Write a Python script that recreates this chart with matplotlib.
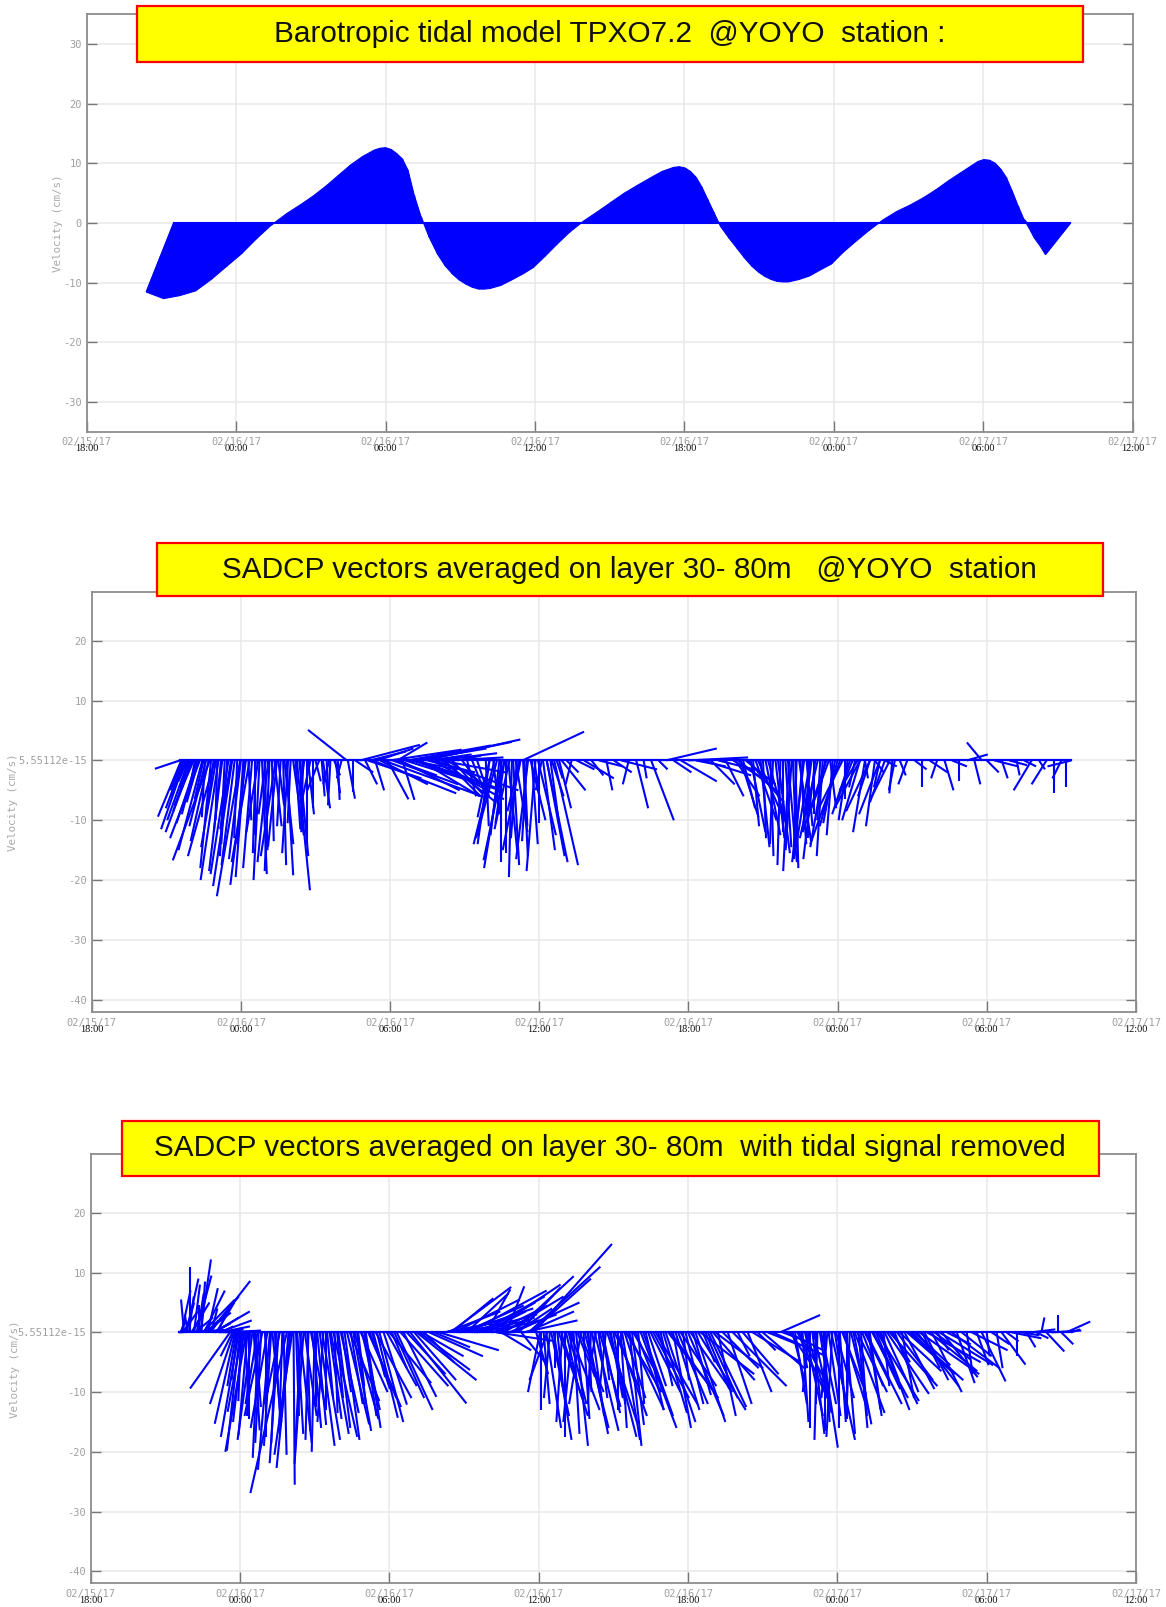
import numpy as np
import matplotlib
matplotlib.use("Agg")
import matplotlib.pyplot as plt
from matplotlib.collections import LineCollection
from matplotlib.patches import Rectangle, Polygon

# =========================
# Data (hours after 02/15/17 18:00, u / v in cm/s)
# =========================
tick_hours = [0, 6, 12, 18, 24, 30, 36, 42]
tick_dates = ["02/15/17", "02/16/17", "02/16/17", "02/16/17",
              "02/16/17", "02/17/17", "02/17/17", "02/17/17"]
tick_times = ["18:00", "00:00", "06:00", "12:00", "18:00", "00:00", "06:00", "12:00"]

titles = ["Barotropic tidal model TPXO7.2  @YOYO  station :",
          "SADCP vectors averaged on layer 30- 80m   @YOYO  station",
          "SADCP vectors averaged on layer 30- 80m  with tidal signal removed"]

# barotropic tide (TPXO7.2)
tide_hours = [3.5, 4.0, 4.5, 5.0, 5.5, 6.0, 6.5, 7.0, 7.5, 8.0,
              8.5, 9.0, 9.5, 10.0, 10.5, 11.0, 11.5, 11.75, 12.0, 12.25,
              12.5, 12.75, 13.0, 13.25, 13.5, 13.75, 14.0, 14.25, 14.5, 14.75,
              15.0, 15.25, 15.5, 15.75, 16.0, 16.5, 17.0, 17.5, 18.0, 18.5,
              19.0, 19.5, 20.0, 20.5, 21.0, 21.5, 22.0, 22.5, 23.0, 23.5,
              23.75, 24.0, 24.25, 24.5, 24.75, 25.0, 25.25, 25.5, 25.75, 26.0,
              26.25, 26.5, 26.75, 27.0, 27.25, 27.5, 27.75, 28.0, 28.5, 29.0,
              29.5, 30.0, 30.5, 31.0, 31.5, 32.0, 32.5, 33.0, 33.5, 34.0,
              34.5, 35.0, 35.5, 35.75, 36.0, 36.25, 36.5, 36.75, 37.0, 37.25,
              37.5, 37.75, 38.0, 38.5, 39.0, 39.5]
tide_u = [-4.6, -3.8, -3.2, -2.6, -2.1, -1.6, -1.2, -0.8, -0.4, 0.2,
          0.3, 0.4, 0.5, 0.5, 0.4, 0.3, 0.2, 0.1, 0.0, -0.1,
          -0.2, -0.3, -0.4, -0.4, -0.3, 0.0, 0.4, 0.6, 0.8, 0.9,
          1.0, 1.0, 1.0, 0.9, 0.8, 0.5, 0.2, 0.0, -0.3, -0.5,
          -0.6, -0.5, -0.2, 0.1, 0.3, 0.4, 0.5, 0.5, 0.4, 0.3,
          0.2, 0.1, 0.0, -0.1, -0.2, -0.3, -0.3, -0.2, 0.2, 0.5,
          0.7, 0.9, 1.0, 1.0, 1.0, 0.9, 0.8, 0.7, 0.4, 0.1,
          -0.2, -0.4, -0.6, -0.6, -0.4, -0.1, 0.1, 0.3, 0.4, 0.5,
          0.5, 0.4, 0.3, 0.2, 0.1, 0.0, -0.1, -0.2, -0.3, -0.4,
          -0.4, -0.5, -0.6, -1.9, -2.9, -4.2]
tide_v = [-11.6, -12.7, -12.2, -11.4, -9.5, -7.3, -5.2, -2.7, -0.4, 1.6,
          3.0, 4.5, 6.2, 8.0, 9.7, 11.1, 12.2, 12.5, 12.6, 12.3,
          11.6, 10.7, 8.8, 4.6, 1.0, -2.4, -5.3, -7.2, -8.6, -9.6,
          -10.3, -10.8, -11.1, -11.1, -11.0, -10.5, -9.6, -8.6, -7.5, -5.7,
          -3.7, -1.6, 0.3, 1.9, 3.5, 5.0, 6.3, 7.5, 8.6, 9.3,
          9.4, 9.2, 8.6, 7.6, 6.0, 4.0, 1.8, -0.6, -2.6, -4.3,
          -5.9, -7.3, -8.3, -9.0, -9.5, -9.8, -9.9, -9.9, -9.5, -8.9,
          -7.9, -6.9, -5.0, -3.2, -1.3, 0.5, 1.9, 3.0, 4.2, 5.6,
          7.1, 8.4, 9.7, 10.3, 10.6, 10.5, 10.0, 9.0, 7.6, 5.4,
          2.8, 0.6, -1.0, -2.5, -4.0, -5.3]

# SADCP 30-80 m layer
layer_hours = [3.55, 3.6, 3.7, 3.8, 3.9, 4.0, 4.1, 4.2, 4.35, 4.5, 4.6, 4.75, 4.9, 5.0,
               5.1, 5.2, 5.35, 5.5, 5.6, 5.75, 5.97, 6.1, 6.2, 6.3, 6.45, 6.6, 6.7, 6.85,
               7.0, 7.1, 7.25, 7.4, 7.5, 7.6, 7.75, 7.84, 8.0, 8.1, 8.25, 8.4, 8.55, 8.65,
               8.8, 9.0, 9.15, 9.3, 9.45, 9.6, 9.75, 9.9, 10.05, 10.26, 10.3, 10.5, 10.6,
               10.8, 11.0, 11.2, 11.4, 11.6, 11.73, 11.9, 12.0, 12.2, 12.4, 12.5, 12.7,
               12.9, 13.1, 13.3, 13.5, 13.7, 13.9, 14.1, 14.3, 14.5, 14.7, 14.9, 15.1,
               15.3, 15.5, 16.6, 15.85, 16.0, 16.15, 16.3, 16.45, 16.6, 16.75, 16.9, 17.05,
               17.2, 17.33, 17.35, 17.5, 17.65, 17.8, 17.95, 18.1, 18.3, 18.5, 18.7, 18.9,
               19.1, 19.3, 19.5, 19.8, 20.1, 20.4, 20.7, 21.0, 21.3, 21.6, 21.9, 22.2,
               22.5, 22.8, 23.1, 23.4, 23.7, 24.0, 24.3, 24.6, 24.9, 25.2, 25.5, 25.8,
               26.0, 26.2, 26.4, 26.6, 26.8, 27.0, 27.2, 27.4, 27.6, 27.8, 28.0, 28.15,
               28.3, 28.45, 28.6, 28.75, 28.9, 29.05, 29.2, 29.4, 29.55, 29.7, 29.9, 30.1,
               30.3, 30.5, 30.7, 30.9, 31.1, 31.3, 31.5, 31.7, 31.9, 32.2, 32.5, 32.8,
               33.1, 33.4, 33.7, 34.0, 34.3, 34.6, 34.9, 35.2, 35.5, 35.8, 36.0, 36.3,
               36.6, 36.9, 37.2, 37.5, 37.8, 38.1, 38.4, 38.7, 39.0, 39.2, 39.4,
               # denser ensembles
               3.65, 3.75, 3.85, 3.95, 4.05, 4.15, 4.25, 4.3, 4.45, 4.55,
               4.7, 4.8, 4.95, 5.05, 5.25, 5.45, 5.65, 5.85, 6.0, 6.15,
               6.35, 6.55, 6.75, 6.95, 7.15, 7.35, 7.45, 7.7, 7.9, 8.2,
               8.35, 8.5, 8.7, 8.9, 9.25, 9.55, 9.8,
               11.1, 11.3, 11.5, 12.1, 12.3, 12.6, 12.8, 13.0, 13.2, 13.4,
               13.6, 13.8, 14.0, 14.2, 14.4,
               16.0, 16.2, 16.4, 16.5, 16.65, 16.8, 16.95, 17.1, 17.25, 17.4,
               17.55, 17.7, 17.85, 18.0, 18.15, 18.3, 18.45, 18.6, 18.8,
               25.9, 26.1, 26.3, 26.5, 26.7, 26.9, 27.1, 27.3, 27.5, 27.7,
               27.9, 28.05, 28.2, 28.35, 28.5, 28.65, 28.8, 28.95, 29.1, 29.3,
               29.5, 29.65, 29.8, 30.0, 30.2, 30.4, 30.6, 30.8,
               30.9, 31.1, 31.3, 31.5, 31.7, 31.9, 32.1, 32.3]
layer_u = [-4.2, -3.9, -3.0, -2.5, -3.6, -2.0, -3.2, -2.4, -5.0, -1.5, -2.8, -6.2, -1.0, -2.5,
           -3.0, -1.2, -0.8, -3.0, -1.8, -2.2, -3.9, -1.0, -2.6, 0.5, -1.5, -0.5, -2.0, 0.8,
           -1.2, -1.8, 0.3, -2.5, 1.0, -0.6, 1.5, 1.1, -0.5, 1.8, 2.2, 0.4, -0.8, 0.0,
           -1.5, 0.9, -2.0, 1.2, 0.2, -0.4, 1.0, 0.3, -0.8, -6.5, 1.2, 0.0, 3.0,
           10.0, 2.0, 6.0, 1.5, 8.0, 16.8, 3.5, 12.0, 7.0, 10.0, 2.0, 14.0,
           9.0, 13.0, 15.0, 8.0, 12.0, 10.0, 9.0, 7.0, 5.0, 4.0, 3.0, 1.5,
           2.0, 2.0, -3.5, 0.5, -2.0, 1.0, -3.5, 0.0, -1.5, 1.5, -0.5, 2.0,
           -2.0, 10.3, 0.8, -0.8, 2.5, 1.0, 3.0, -1.0, 3.5, 2.0, 1.0, 4.0,
           2.0, -1.0, 3.0, 5.0, 2.0, 4.0, 1.0, 3.0, 6.0, -1.0, 2.0, 0.5,
           3.8, 1.5, 8.5, 3.0, 6.0, 10.0, 5.0, 8.0, 4.0, 6.0, 3.0, 5.0,
           7.0, 2.0, 6.0, 1.0, 4.0, 0.5, 3.0, -0.5, 2.0, 0.0, 1.5, -1.0,
           0.5, 2.0, -1.5, 1.0, -2.5, 0.0, -3.0, -1.0, -4.0, 1.0, -2.0, -5.0,
           0.0, -3.0, -1.0, -4.0, 0.5, -2.0, 1.5, -1.0, 2.0, -0.5, 1.0, -1.5,
           2.0, 0.0, 3.0, -1.0, 1.5, 2.5, 0.0, 3.5, 1.0, -2.5, 2.0, 4.0,
           1.0, 3.0, 0.5, 2.0, -3.0, 1.0, -2.5, 0.0, -1.5, 0.0, -4.0,
           # denser ensembles
           -2.0, -4.0, -1.5, -2.8, -4.5, -1.0, -3.5, -2.0, -4.0, -0.5,
           -3.0, -1.8, -4.5, -0.3, -2.2, -1.0, -3.2, -0.5, -2.0, -1.5,
           -3.0, 0.0, -1.0, 0.5, -0.8, 1.2, -1.5, 0.5, -1.0, 0.8,
           1.5, -0.3, 1.0, 0.0, 0.5, -1.0, 0.8,
           9.0, 14.0, 6.0, 11.0, 5.0, 16.0, 8.0, 12.0, 10.0, 16.0,
           7.0, 14.0, 11.0, 6.0, 9.0,
           -2.0, -3.5, -1.5, -3.0, 0.0, -2.5, 1.0, -1.0, -3.0, 0.5,
           -2.0, 1.0, -1.5, 0.0, 2.0, 3.0, 1.5, 4.0, 2.0,
           4.0, 3.0, 5.0, 2.5, 3.5, 1.5, 2.5, 0.5, 1.5, -0.5,
           1.0, -1.0, 0.5, -0.5, 1.0, -2.0, 0.0, -1.5, -2.0, -0.5,
           -2.5, -3.5, -1.0, -3.0, -4.0, -1.5, -2.5, -3.0,
           -3.0, -2.0, -4.0, -1.5, -3.5, -2.5, -3.0, -1.0]
layer_v = [-1.4, -9.4, -8.0, -6.0, -10.0, -4.5, -7.5, -9.0, -13.0, -6.5, -11.0, -16.7, -8.0, -14.5,
           -20.0, -12.0, -16.0, -19.0, -11.5, -17.5, -22.7, -14.0, -20.8, -10.0, -18.0, -15.5, -12.0, -19.0,
           -9.0, -17.0, -13.5, -16.0, -7.5, -11.0, -14.0, -19.2, -10.5, -12.5, -21.7, -9.5, -6.0, -13.9,
           -7.0, -3.5, -5.0, -8.0, -4.5, -7.5, -2.5, -6.6, -3.0, 5.1, -6.4, -5.2, -2.0,
           2.6, -4.0, 1.5, -5.0, -4.0, -6.1, -6.5, 1.8, -2.5, -5.0, -6.6, 2.5,
           -3.0, -4.5, 3.1, -2.0, -6.5, 1.2, -7.0, -4.5, -5.5, 0.8, -4.0, -6.0,
           -5.0, -6.0, -16.7, -11.0, -14.0, -9.0, -13.0, -17.0, -10.5, -15.0, -19.5, -12.0,
           -8.5, 4.8, -16.0, -13.5, -10.0, -7.0, -12.5, -5.0, -17.0, -6.0, -3.0, -5.0,
           -2.0, -4.0, -1.5, -3.0, -2.5, -1.0, -5.0, -2.0, -1.5, -4.0, -8.0, -3.0,
           -10.0, -1.5, 2.0, -2.0, -3.5, 0.5, -1.0, -2.5, -4.0, -1.5, -6.0, -3.0,
           -5.5, -8.0, -7.0, -11.0, -9.0, -13.0, -10.5, -14.0, -15.5, -12.0, -17.0, -15.0,
           -18.0, -13.5, -16.5, -11.0, -15.0, -9.0, -13.0, -16.0, -12.0, -8.0, -10.5, -14.0,
           -6.5, -9.0, -4.5, -7.5, -3.0, -6.0, -2.0, -4.5, -1.0, -5.5, -2.5, -4.0,
           -1.5, -4.5, -2.0, -3.0, -5.0, -1.0, -3.5, 1.0, -4.0, 3.0, -2.0, -1.0,
           -3.0, -0.8, -2.5, -1.0, -5.0, -1.5, -4.0, -5.5, -3.0, -4.5, -1.0,
           # denser ensembles
           -5.0, -11.5, -3.5, -8.5, -12.0, -5.5, -10.5, -7.0, -15.0, -9.5,
           -13.5, -18.0, -16.0, -10.0, -18.5, -14.0, -21.0, -13.0, -16.5, -19.5,
           -17.0, -12.5, -20.0, -15.0, -18.5, -11.0, -14.5, -17.5, -15.5, -11.5,
           -16.0, -12.0, -9.0, -8.0, -6.0, -4.0, -5.5,
           -3.0, -5.5, 2.0, -4.0, 3.0, -5.0, -1.5, 2.0, -6.0, 3.5,
           1.0, -5.0, -2.0, -6.0, 0.5,
           -9.5, -14.0, -12.5, -18.0, -15.5, -11.5, -17.5, -13.0, -15.0, -11.0,
           -16.5, -14.0, -18.5, -10.5, -15.0, -16.0, -11.0, -17.5, -8.0,
           -6.0, -9.5, -4.0, -12.0, -10.0, -14.5, -12.5, -16.0, -13.0, -17.5,
           -14.5, -18.5, -12.5, -16.0, -14.0, -17.0, -13.0, -11.5, -16.5, -10.0,
           -14.5, -9.5, -12.5, -11.0, -8.0, -10.0, -6.5, -5.0,
           -10.0, -12.0, -8.5, -11.0, -9.0, -7.0, -6.0, -5.0]

# SADCP 30-80 m layer, tide removed
resid_hours = [3.55, 3.6, 3.7, 3.8, 3.9, 4.0, 4.1, 4.2, 4.3, 4.4, 4.45, 4.5, 4.6, 4.7,
               4.8, 4.9, 5.0, 5.1, 5.2, 5.3, 5.4, 5.6, 5.7, 5.8, 5.9, 6.0, 6.1, 6.2,
               6.3, 6.4, 6.55, 6.7, 6.85, 7.0, 7.1, 7.25, 7.4, 7.55, 7.7, 7.88, 8.02, 8.15,
               8.3, 8.45, 8.6, 8.75, 8.9, 9.05, 9.2, 9.35, 9.5, 9.65, 9.8, 9.95, 10.1,
               10.3, 10.45, 10.6, 10.75, 10.9, 11.05, 11.2, 11.35, 11.5, 11.77, 11.9, 12.1,
               12.3, 12.57, 12.84, 13.0, 13.2, 13.4, 13.6, 13.8, 14.0, 14.2, 14.45, 14.5,
               14.7, 14.9, 15.1, 15.3, 15.5, 15.7, 15.9, 16.1, 16.3, 16.5, 16.7, 16.96,
               17.1, 17.3, 17.5, 17.8, 17.9, 18.05, 18.2, 18.35, 18.5, 18.65, 18.8, 18.95,
               19.1, 19.25, 19.4, 19.55, 19.7, 19.85, 20.0, 20.15, 20.3, 20.45, 20.6, 20.75,
               20.9, 21.05, 21.2, 21.35, 21.5, 21.65, 21.8, 22.0, 22.2, 22.4, 22.6, 22.8,
               23.0, 23.2, 23.4, 23.6, 23.8, 24.0, 24.2, 24.4, 24.6, 24.8, 25.0, 25.2,
               25.4, 25.6, 25.8, 26.0, 26.2, 26.4, 26.6, 26.8, 27.0, 27.2, 27.4, 27.7,
               27.8, 28.0, 28.2, 28.4, 28.55, 28.7, 28.85, 29.0, 29.15, 29.3, 29.45, 29.6,
               29.75, 29.9, 30.05, 30.2, 30.35, 30.5, 30.65, 30.8, 30.95, 31.1, 31.25, 31.4,
               31.55, 31.7, 31.85, 32.0, 32.2, 32.4, 32.6, 32.8, 33.0, 33.2, 33.4, 33.6,
               33.8, 34.0, 34.2, 34.4, 34.6, 34.8, 35.0, 35.2, 35.4, 35.6, 35.8, 36.0,
               36.2, 36.4, 36.6, 36.8, 37.0, 37.2, 37.4, 37.6, 37.8, 38.0, 38.2, 38.4,
               38.6, 38.86, 39.0, 39.2, 39.4,
               # denser ensembles
               3.65, 3.75, 3.85, 3.95, 4.05, 4.15, 4.25, 4.35, 4.55, 4.65,
               4.75, 4.85, 4.95, 5.05, 5.15, 5.25,
               5.75, 5.85, 5.95, 6.05, 6.15, 6.25, 6.35, 6.5, 6.6, 6.75,
               6.9, 7.05, 7.2, 7.3, 7.45, 7.6, 7.75, 7.95, 8.1, 8.25,
               8.4, 8.55, 8.7, 8.85, 9.0, 9.1, 9.3, 9.45, 9.6, 9.75,
               9.9, 10.05, 10.2, 10.4, 10.55, 10.7, 10.85, 11.0, 11.15, 11.3,
               11.45, 11.6, 12.0, 12.2, 12.45, 12.7, 13.1, 13.3,
               14.3, 14.6, 14.8, 15.0, 15.2, 15.4, 15.6, 15.8, 16.0, 16.2,
               16.4, 16.6, 16.8, 17.0, 17.2, 17.4, 17.6, 17.7,
               18.1, 18.3, 18.45, 18.6, 18.75, 18.9, 19.05, 19.2, 19.35, 19.5,
               19.65, 19.8, 19.95, 20.1, 20.25, 20.4, 20.55, 20.7, 20.85, 21.0,
               21.15, 21.3, 21.45, 21.6, 21.75, 21.9, 22.1, 22.3, 22.5, 22.7,
               22.9, 23.1, 23.3, 23.5, 23.7, 23.9, 24.1, 24.3, 24.5, 24.7,
               24.9, 25.1,
               28.1, 28.3, 28.45, 28.6, 28.75, 28.9, 29.05, 29.2, 29.35, 29.5,
               29.65, 29.8, 29.95, 30.1, 30.25, 30.4, 30.55, 30.7, 30.85, 31.0,
               31.15, 31.3, 31.45, 31.6, 31.75, 31.9, 32.1, 32.3, 32.5, 32.7,
               32.9, 33.1, 33.3, 33.5, 33.7, 33.9, 34.1]
resid_u = [7.8, 1.0, 2.5, 1.5, -0.5, 0.0, 2.0, 3.0, 1.0, 1.8, 0.6, 5.4, 4.3, 1.7,
           6.7, 3.0, 4.0, 2.0, 5.0, 3.5, 6.0, -6.7, -2.0, -3.4, -1.0, -2.2, -2.5, 0.5,
           -1.5, -0.5, 1.0, -2.0, -1.0, 0.5, -2.8, -1.2, 0.8, -1.5, -0.5, -6.1, -2.3, 0.2,
           1.0, -1.0, 2.0, -0.5, 1.5, 0.0, 2.5, -1.0, 1.0, 3.0, 0.5, 2.0, 1.5,
           3.7, 2.0, 4.0, 1.0, 3.0, 2.5, 4.5, 2.0, 3.5, 3.9, 5.0, 2.5,
           6.0, 5.5, 9.4, 7.0, 8.5, 5.0, 9.0, 6.0, 10.0, 8.0, 10.2, 7.0,
           9.0, 12.0, 7.0, 11.0, 6.0, 9.0, 4.0, 8.0, 10.0, 5.0, 3.0, 10.2,
           6.0, 4.0, 8.0, 13.1, 2.0, -2.0, 1.0, -3.0, 3.0, 0.0, 4.0, -1.0,
           2.0, 5.0, 1.0, 3.0, -2.0, 4.0, 0.5, 2.0, -1.0, 3.5, 1.0, 5.0,
           2.0, 4.0, 0.0, 3.0, 6.0, 2.0, 4.0, 1.0, 5.0, 3.0, 6.0, 2.0,
           4.0, 7.0, 3.0, 5.0, 1.0, 6.0, 3.0, 8.0, 2.0, 5.0, 7.0, 3.0,
           6.0, 4.0, 9.0, 2.0, 6.0, 4.0, 8.0, 3.0, 7.0, 5.0, 9.0, 6.7,
           4.0, 6.0, 2.0, 5.0, 1.0, 3.0, -1.0, 2.0, 0.0, 3.0, 1.0, -1.0,
           4.0, 2.0, 0.0, 3.5, 1.5, -0.5, 3.0, 5.0, 1.0, 4.0, 2.0, 6.0,
           3.0, 5.0, 1.0, 7.0, 3.0, 6.0, 2.0, 8.0, 4.0, 7.0, 3.0, 9.0,
           5.0, 2.0, 6.0, 4.0, 8.0, 3.0, 5.0, 1.0, 6.0, 2.0, 4.0, 0.5,
           3.0, 1.0, 4.0, 2.0, 5.0, 0.0, 3.0, 1.5, 4.0, 2.0, 0.5, 3.0,
           5.0, 0.0, 2.0, 4.0, 1.5,
           # denser ensembles
           1.5, -0.5, 2.0, 0.8, 3.0, 1.0, 2.5, 0.0, 3.5, 2.0,
           5.0, 1.0, 6.0, 3.0, 5.5, 2.0,
           -4.0, -1.5, -3.0, -0.5, -1.8, -3.5, 0.0, -2.5, 1.0, -1.0,
           -3.0, 0.0, -2.0, 1.5, -0.8, -2.5, 0.5, -1.5, -3.0, 0.5,
           2.0, -1.5, 0.5, 2.5, -0.5, 1.5, 3.0, 0.0, 2.0, 4.0,
           1.0, 3.0, 2.5, 5.0, 3.0, 1.5, 4.5, 2.0, 5.5, 3.0,
           6.0, 4.0, 7.0, 5.0, 8.0, 6.5, 10.0, 7.0,
           9.0, 11.0, 8.0, 10.0, 13.0, 9.0, 11.0, 7.0, 12.0, 9.0,
           6.0, 10.0, 8.0, 11.0, 7.0, 9.0, 12.0, 10.0,
           0.0, 2.5, -1.0, 3.0, 1.0, 4.5, 0.0, 3.0, -1.5, 2.0,
           4.0, 1.0, 3.5, -0.5, 4.0, 1.5, 3.0, -1.0, 4.5, 2.0,
           5.0, 1.0, 3.5, 6.0, 2.0, 4.0, 6.0, 3.0, 5.0, 7.0,
           2.0, 5.0, 8.0, 4.0, 6.0, 3.0, 7.0, 5.0, 9.0, 4.0,
           6.0, 8.0,
           4.0, 2.0, 5.0, 1.0, 3.5, 0.0, 3.0, -0.5, 2.5, 0.0,
           2.0, -1.0, 3.0, 1.0, 4.0, 0.0, 2.5, 5.0, 1.5, 3.5,
           6.0, 2.0, 4.5, 7.0, 3.0, 5.5, 8.0, 4.0, 7.0, 5.0,
           9.0, 6.0, 10.0, 4.0, 8.0, 6.0, 9.0]
resid_v = [0.4, 2.0, 3.5, 5.0, 3.0, 11.0, 4.0, 2.5, 6.5, 12.2, 8.5, 5.5, 3.3, 7.4,
           8.6, 1.5, 2.5, 4.5, 1.0, 0.5, 0.3, -9.4, -4.0, -15.3, -8.0, -19.8, -13.3, -11.0,
           -17.2, -14.0, -16.4, -12.0, -18.5, -10.0, -16.0, -19.0, -13.0, -21.9, -15.5, -26.9, -22.7, -25.5,
           -17.0, -20.0, -14.0, -18.0, -16.0, -12.5, -19.0, -15.0, -11.0, -17.0, -13.5, -16.0, -10.0,
           -15.4, -12.0, -14.5, -9.0, -13.0, -16.0, -11.0, -7.5, -14.3, -12.1, -9.0, -6.0,
           -13.0, -10.8, -11.9, -8.0, -6.3, -5.0, -4.0, -2.5, -3.0, 1.5, 7.6, 5.7,
           2.5, 4.0, 6.5, 3.0, 1.0, 5.0, 7.2, 2.0, -1.5, -3.0, 7.7, 9.4,
           4.0, -5.0, 3.5, 14.8, -7.0, -10.0, -12.0, -8.0, -14.0, -6.0, -11.0, -15.0,
           -9.0, -13.0, -17.0, -7.5, -12.0, -16.0, -10.0, -14.0, -6.0, -12.5, -8.0, -15.0,
           -11.0, -9.0, -13.0, -18.0, -10.0, -19.0, -7.0, -12.0, -14.0, -9.0, -11.0, -6.0,
           -13.5, -9.0, -16.0, -12.0, -8.0, -14.0, -10.5, -13.0, -5.0, -11.0, -8.0, -14.0,
           -6.0, -12.0, -9.0, -4.0, -7.0, -10.0, -5.0, -3.0, -6.0, -2.0, -4.0, 2.9,
           -1.5, -3.0, -8.0, -11.0, -6.0, -14.0, -10.0, -17.0, -12.0, -19.3, -15.0, -11.0,
           -18.0, -13.0, -16.0, -9.0, -17.0, -12.0, -15.4, -10.0, -14.0, -8.0, -12.9, -11.0,
           -7.0, -13.0, -9.0, -10.3, -5.0, -8.0, -11.0, -7.0, -4.0, -9.0, -6.0, -5.0,
           -10.0, -3.0, -7.5, -2.0, -6.0, -8.5, -4.0, -7.0, -3.0, -5.5, -8.2, -4.0,
           -2.0, -6.0, -5.4, -1.5, -1.0, -4.0, -0.5, -2.5, 0.5, -1.0, 2.5, -3.2,
           0.3, 2.9, -2.0, 1.8, 0.5,
           # denser ensembles
           7.0, 5.5, 9.0, 6.0, 5.0, 8.0, 9.5, 4.5, 7.0, 2.0,
           6.0, 4.0, 3.5, 5.0, 2.0, 1.0,
           -12.0, -9.0, -17.5, -11.5, -15.0, -20.0, -14.5, -18.0, -12.5, -21.0,
           -14.0, -17.5, -23.0, -15.0, -18.5, -12.0, -20.5, -17.0, -20.5, -14.0,
           -18.5, -22.0, -16.5, -13.0, -20.0, -15.5, -18.0, -13.0, -14.5, -17.5,
           -11.0, -13.5, -18.0, -11.5, -16.5, -12.0, -10.0, -14.0, -12.5, -9.5,
           -11.0, -15.0, -8.5, -11.0, -9.0, -7.0, -8.0, -4.0,
           3.5, 5.5, 1.5, 4.5, 7.0, 2.0, 6.0, 3.5, 8.0, 4.5,
           2.5, 6.0, 3.0, 5.0, 7.5, 2.0, 11.0, 9.0,
           -13.0, -16.0, -11.0, -18.0, -9.5, -14.0, -17.5, -12.0, -15.0, -19.0,
           -10.0, -14.5, -17.0, -12.0, -16.5, -11.0, -13.5, -9.0, -17.5, -12.0,
           -14.0, -16.0, -11.0, -13.0, -15.5, -10.0, -16.0, -13.0, -10.0, -12.0,
           -9.0, -15.0, -11.0, -13.0, -9.0, -12.0, -10.0, -15.0, -7.0, -9.5,
           -12.5, -6.0,
           -6.0, -12.0, -9.0, -15.0, -11.0, -16.0, -13.5, -18.0, -12.0, -16.5,
           -14.0, -17.5, -11.0, -15.0, -13.0, -14.5, -10.5, -13.5, -16.0, -9.0,
           -12.0, -14.0, -9.5, -11.5, -8.0, -12.0, -9.0, -10.0, -6.5, -9.5,
           -8.0, -5.5, -7.0, -8.0, -6.5, -4.5, -5.5]

assert len(tide_hours) == len(tide_u) == len(tide_v)
assert len(layer_hours) == len(layer_u) == len(layer_v)
assert len(resid_hours) == len(resid_u) == len(resid_v)

stick_scale = 0.24  # hours of time axis per cm/s of u (same screen scale as v)

# =========================
# Figure
# =========================
W, H = 1166, 1607
fig = plt.figure(figsize=(W / 100, H / 100), dpi=100)
plt.rcParams['font.family'] = 'DejaVu Sans Mono'

BLUE = '#0000ff'


def px_axes(left, top, right, bottom):
    return fig.add_axes([left / W, 1 - bottom / H, (right - left) / W, (bottom - top) / H])


def stick_segments(t, u, v):
    return [[(ti, 0.0), (ti + stick_scale * ui, vi)] for ti, ui, vi in zip(t, u, v)]


def style_axes(ax, ylim, yticks, zero_label, ylabel_x):
    ax.set_xlim(0, 42)
    ax.set_ylim(*ylim)
    ax.set_xticks(tick_hours)
    ax.set_xticklabels(tick_dates)
    ax.set_yticks(yticks)
    ax.set_yticklabels([zero_label if y == 0 else str(y) for y in yticks])
    ax.grid(True, color='#e8e8e8', lw=1.1)
    ax.set_axisbelow(True)
    for sp in ax.spines.values():
        sp.set_color('#8c8c8c')
        sp.set_linewidth(1.3)
    ax.tick_params(axis='y', direction='in', length=7, width=1.0, color='#777777',
                   left=True, right=True, labelsize=7.5, labelcolor='#a0a0a0', pad=3.5)
    ax.tick_params(axis='x', direction='in', length=8, width=1.0, color='#777777',
                   top=False, labelsize=7.5, labelcolor='#a0a0a0', pad=4.0)
    for h, tt in zip(tick_hours, tick_times):
        ax.annotate(tt, xy=(h, 0), xycoords=('data', 'axes fraction'),
                    xytext=(0, -12.3), textcoords='offset points', ha='center', va='center',
                    fontsize=7.5, color='#111111', family='Liberation Serif', annotation_clip=False)
    ax.set_ylabel("Velocity (cm/s)", fontsize=7.8, color='#a8a8a8', va='center')
    ax.yaxis.set_label_coords(ylabel_x, 0.5)


def title_box(left, top, right, bottom, text):
    fig.patches.append(Rectangle((left / W, 1 - bottom / H), (right - left) / W, (bottom - top) / H,
                                 transform=fig.transFigure, facecolor='#ffff00',
                                 edgecolor='#ff0000', lw=1.6, zorder=5))
    fig.text((left + right) / 2 / W, 1 - (top + bottom) / 2 / H, text, ha='center', va='center',
             fontsize=21.4, family='Liberation Sans', color='#111111', zorder=6)


# ---- panel 1: barotropic tide
ax1 = px_axes(86.7, 14, 1132.7, 431.7)
tips1 = [(t + stick_scale * u, v) for t, u, v in zip(tide_hours, tide_u, tide_v)]
poly = [(tide_hours[0], 0.0)] + tips1 + [(tide_hours[-1], 0.0)]
ax1.add_patch(Polygon(poly, closed=True, facecolor=BLUE, edgecolor=BLUE, lw=0.8))
ax1.add_collection(LineCollection(stick_segments(tide_hours, tide_u, tide_v), colors=BLUE, linewidths=1.2))
ax1.plot([tide_hours[0], tide_hours[-1]], [0, 0], color=BLUE, lw=1.5)
style_axes(ax1, (-35, 35), [30, 20, 10, 0, -10, -20, -30], "0", -0.0274)

# ---- panel 2: SADCP layer
ax2 = px_axes(91.7, 592.3, 1136, 1012.3)
ax2.add_collection(LineCollection(stick_segments(layer_hours, layer_u, layer_v), colors=BLUE, linewidths=1.5))
ax2.plot([min(layer_hours), max(layer_hours)], [0, 0], color=BLUE, lw=1.6)
style_axes(ax2, (-42.1, 28.1), [20, 10, 0, -10, -20, -30, -40], "5.55112e-15", -0.0754)

# ---- panel 3: tide removed
ax3 = px_axes(90.7, 1154.3, 1136, 1583.3)
ax3.add_collection(LineCollection(stick_segments(resid_hours, resid_u, resid_v), colors=BLUE, linewidths=1.5))
ax3.plot([min(resid_hours), max(resid_hours)], [0, 0], color=BLUE, lw=1.6)
style_axes(ax3, (-42.0, 29.8), [20, 10, 0, -10, -20, -30, -40], "5.55112e-15", -0.0724)

title_box(136.7, 6, 1083.3, 61.7, titles[0])
title_box(156.7, 543, 1102.7, 596, titles[1])
title_box(121.7, 1121, 1099, 1175.7, titles[2])

fig.savefig("out.png", dpi=100)
